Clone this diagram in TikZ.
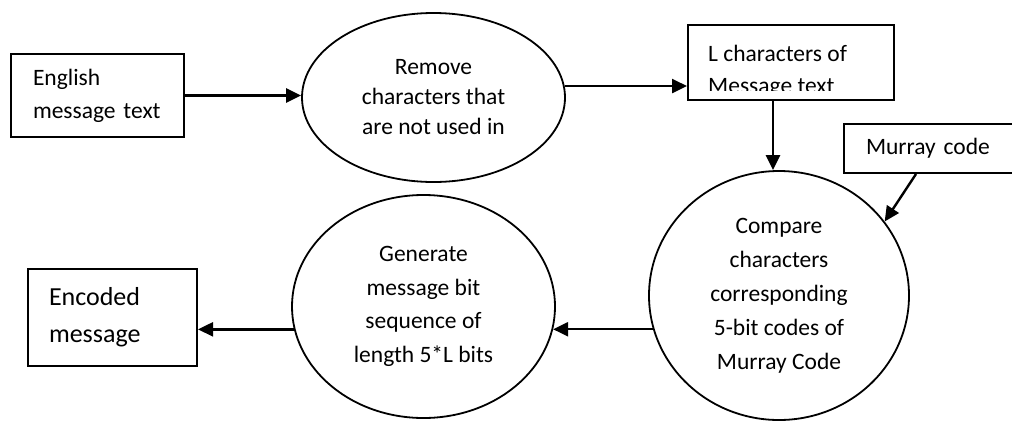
\documentclass[tikz,border=0pt]{standalone}
\usepackage{fontspec}
\setmainfont{Carlito}
\usetikzlibrary{shapes.geometric,arrows.meta}
\begin{document}
\begin{tikzpicture}[x=1pt,y=-1pt,
  every node/.style={inner sep=0pt, font=\fontsize{23.5}{33}\selectfont},
  box/.style={draw, rectangle, line width=2pt},
  bubble/.style={draw, ellipse, line width=1.8pt, align=center},
  flow/.style={line width=2.4pt, -{Triangle[length=15pt,width=14pt]}}]
\useasboundingbox (0,0) rectangle (1012,421);
\clip (0,0) rectangle (1012,421);

% input and output boxes
\node[box, anchor=north west, minimum width=173pt, minimum height=83pt,
      text width=129pt, inner xsep=22pt, align=left] (eng) at (10,53)
      {English\\message text};
\node[box, anchor=north west, minimum width=169pt, minimum height=97pt,
      text width=127pt, inner xsep=21pt, align=left,
      font=\fontsize{26}{37}\selectfont] (enc) at (27,268)
      {Encoded\\message};
\node[box, anchor=north west, minimum height=49pt,
      text width=170pt, inner xsep=22pt, align=left] (mur) at (843,123)
      {Murray code};

% box whose second line is cut off by its border
\begin{scope}
  \clip (687,24) rectangle (893,90);
  \node[anchor=north west, align=left,
        font=\fontsize{23.5}{32}\selectfont] (lchartext) at (708,45)
        {L characters of\\Message text};
\end{scope}
\node[box, anchor=north west, minimum width=206pt, minimum height=75pt] (lchar) at (687,24) {};

% processing steps
\node[bubble, minimum width=263pt, minimum height=169pt,
      font=\fontsize{23.5}{30}\selectfont] (rem) at (433.5,97.5)
      {Remove\\characters that\\are not used in};
\node[bubble, minimum width=263pt, minimum height=223pt,
      font=\fontsize{23.5}{33.5}\selectfont] (gen) at (423.5,306.5)
      {Generate\\message bit\\sequence of\\length 5*L bits};
\node[bubble, minimum width=260pt, minimum height=249pt,
      font=\fontsize{23.5}{34}\selectfont] (cmp) at (779,295.5)
      {Compare\\characters\\corresponding\\5-bit codes of\\Murray Code};

% data flow
\draw[flow] (eng.east) -- (rem.west |- eng.east);
\draw[flow] (rem.5) -- (lchar.west |- rem.5);
\draw[flow] ([xshift=-18pt]lchar.south) -- ([xshift=-18pt]lchar.south |- cmp.north);
\draw[flow] ([xshift=73pt]mur.south west) -- (cmp.35);
\draw[flow] (cmp.195) -- (gen.-10 |- cmp.195);
\draw[flow] (gen.190) -- (enc.east |- gen.190);
\end{tikzpicture}
\end{document}
